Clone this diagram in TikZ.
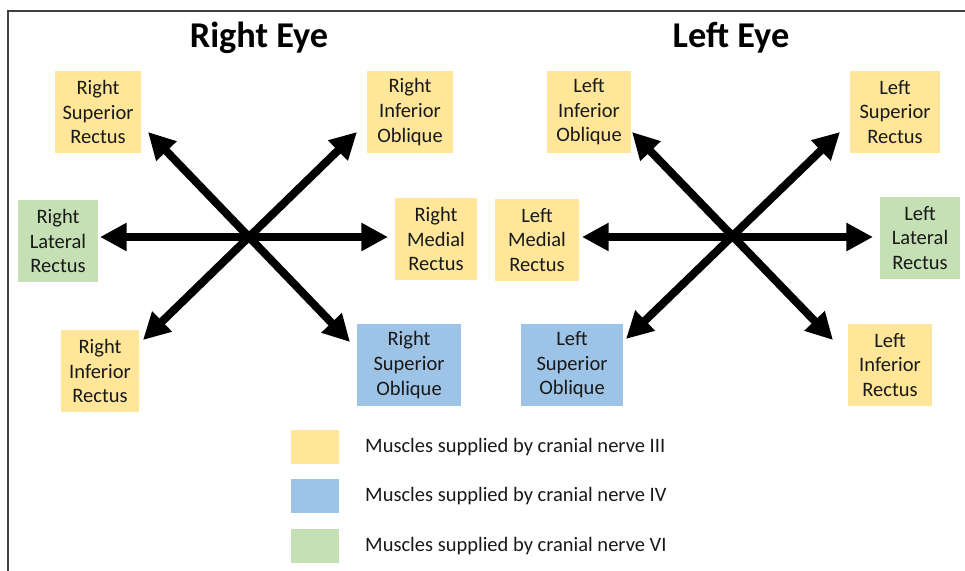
\documentclass[tikz,border=0pt]{standalone}
\usepackage{fontspec}
\setmainfont{Carlito}
\usetikzlibrary{arrows.meta}
\definecolor{nerveIII}{HTML}{FFE699}
\definecolor{nerveIV}{HTML}{9DC3E6}
\definecolor{nerveVI}{HTML}{C5E0B4}

\begin{document}
\begin{tikzpicture}[x=0.03cm, y=-0.03cm,
							muscle/.style={fill=#1, align=center, minimum width=2.6cm, minimum height=2.46cm, inner sep=0pt, font=\fontsize{17.5}{21}\selectfont, text=black!90},
							key/.style={fill=#1, minimum width=1.45cm, minimum height=1cm, inner sep=0pt},
							keytext/.style={anchor=west, inner sep=0pt, font=\fontsize{17.5}{21}\selectfont, text=black!90},
							title/.style={font=\fontsize{31}{37}\selectfont\bfseries},
							gaze/.style={{Triangle[length=0.8cm,width=0.8cm]}-{Triangle[length=0.8cm,width=0.8cm]}, line width=0.24cm}
							]
							\useasboundingbox (0,0) rectangle (965,571);
							% Marco
							\draw[line width=0.06cm, black!75] (8,571) -- (8,11) -- (965,11);
							
							% Titulos
							\node[title] (rtitle) at (259,38) {Right Eye};
							\node[title] (ltitle) at (731,38) {Left Eye};
							
							% Musculos del ojo derecho
							\node[muscle=nerveIII] (rsr) at (98,112) {Right\\Superior\\Rectus};
							\node[muscle=nerveIII] (rio) at (410,112) {Right\\Inferior\\Oblique};
							\node[muscle=nerveVI, minimum width=2.4cm] (rlr) at (58,241) {Right\\Lateral\\Rectus};
							\node[muscle=nerveIII, minimum width=2.46cm] (rmr) at (436,239) {Right\\Medial\\Rectus};
							\node[muscle=nerveIII, minimum width=2.33cm] (rir) at (100,371) {Right\\Inferior\\Rectus};
							\node[muscle=nerveIV, minimum width=3.1cm] (rso) at (409,365) {Right\\Superior\\Oblique};
							
							% Musculos del ojo izquierdo
							\node[muscle=nerveIII, minimum width=2.5cm] (lio) at (589,112) {Left\\Inferior\\Oblique};
							\node[muscle=nerveIII, minimum width=2.7cm] (lsr) at (895,112) {Left\\Superior\\Rectus};
							\node[muscle=nerveIII, minimum width=2.5cm] (lmr) at (537,240) {Left\\Medial\\Rectus};
							\node[muscle=nerveVI, minimum width=2.4cm] (llr) at (920,238) {Left\\Lateral\\Rectus};
							\node[muscle=nerveIV, minimum width=3.05cm] (lso) at (572,365) {Left\\Superior\\Oblique};
							\node[muscle=nerveIII, minimum width=2.5cm] (lir) at (890,365) {Left\\Inferior\\Rectus};
							
							% Puntas de las flechas
							\coordinate (rul) at (148,132);
							\coordinate (rur) at (357,132);
							\coordinate (rl) at (100,237);
							\coordinate (rr) at (388,237);
							\coordinate (rdl) at (143,340);
							\coordinate (rdr) at (350,342);
							\coordinate (lul) at (632,132);
							\coordinate (lur) at (840,132);
							\coordinate (ll) at (582,237);
							\coordinate (lr) at (873,237);
							\coordinate (ldl) at (626,339);
							\coordinate (ldr) at (833,340);
							
							% Flechas de mirada
							\draw[gaze] (rl) -- (rr);
							\draw[gaze] (rul) -- (rdr);
							\draw[gaze] (rur) -- (rdl);
							\draw[gaze] (ll) -- (lr);
							\draw[gaze] (lul) -- (ldr);
							\draw[gaze] (lur) -- (ldl);
							
							% Leyenda
							\node[key=nerveIII] (k3) at (315,447) {};
							\node[key=nerveIV] (k4) at (315,496) {};
							\node[key=nerveVI] (k6) at (315,546) {};
							\node[keytext] (t3) at (365,447) {Muscles supplied by cranial nerve III};
							\node[keytext] (t4) at (365,496) {Muscles supplied by cranial nerve IV};
							\node[keytext] (t6) at (365,546) {Muscles supplied by cranial nerve VI};
						\end{tikzpicture}
\end{document}
